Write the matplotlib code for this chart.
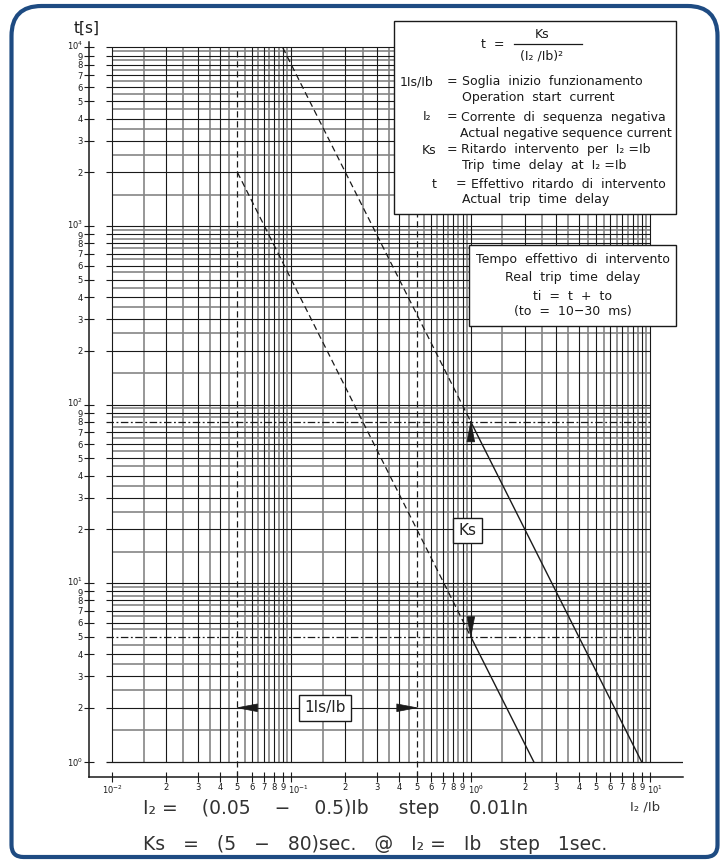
import numpy as np
import matplotlib.pyplot as plt
import matplotlib.transforms as mtransforms
from matplotlib.patches import Rectangle, PathPatch
from matplotlib.path import Path

W, H = 724, 865

# trip curves t = Ks / (I2/Ib)^2
ks5_x = [0.05, 1.0, 2.24]
ks5_t = [2000, 5, 1]
ks80_x = [0.0894, 1.0, 8.94]
ks80_t = [10000, 80, 1]

# setting ranges
is_limits = [0.05, 0.5]   # 1Is/Ib (vertical dashed)
ks_limits = [5, 80]       # Ks at I2 = Ib (horizontal dashed)

# log paper: a line every 0.5 inside each decade
grid_steps = [1, 1.5, 2, 2.5, 3, 3.5, 4, 4.5, 5, 5.5, 6, 6.5, 7, 7.5, 8, 8.5, 9, 9.5]
x_decades = [-2, -1, 0]
y_decades = [0, 1, 2, 3]
tick_digits = [2, 3, 4, 5, 6, 7, 8, 9]

plt.rcParams['font.family'] = ['DejaVu Sans']
INK = '#1a1a1a'
GREY = '#858585'

fig = plt.figure(figsize=(W / 100, H / 100), dpi=100)
# axes spans the L-shaped axis lines (pixels measured on the reference)
ax = fig.add_axes([89 / W, (H - 777) / H, (683 - 89) / W, (777 - 42) / H])
ax.set_xscale('log')
ax.set_yscale('log')
ax.set_xlim(10 ** -2.1282, 10 ** 1.1828)
ax.set_ylim(10 ** -0.0868, 10 ** 4.0308)

# pixel transform (origin top-left) for the annotation boxes
px = mtransforms.Affine2D().scale(1 / W, -1 / H).translate(0, 1) + fig.transFigure

x_left, x_right = 0.01, 10.0
y_bot, y_top = 1.0, 1e4
x_ext = 10 ** (-2 - 6 / 179.4)   # integer lines stick out a little on the left


def not_guide(v, guides):
    return all(abs(v / g - 1) > 1e-6 for g in guides)


# vertical grid (the guide positions are drawn dashed instead)
vx_major, vx_minor = [], []
for d in x_decades:
    for s in grid_steps:
        v = s * 10.0 ** d
        if not_guide(v, is_limits):
            (vx_major if float(s).is_integer() else vx_minor).append(v)
vx_major.append(x_right)
ax.vlines(vx_minor, y_bot, y_top, colors=GREY, lw=1.2, zorder=1)
ax.vlines(vx_major, y_bot, y_top, colors=INK, lw=0.8, zorder=1.1)

# horizontal grid
hy_major, hy_minor = [], []
for d in y_decades:
    for s in grid_steps:
        v = s * 10.0 ** d
        if not_guide(v, ks_limits):
            (hy_major if float(s).is_integer() else hy_minor).append(v)
hy_major.append(y_top)
ax.hlines(hy_minor, x_left, x_right, colors=GREY, lw=1.2, zorder=1)
ax.hlines(hy_major[1:], x_ext, x_right, colors=INK, lw=0.8, zorder=1.1)
ax.hlines(y_bot, x_ext, ax.get_xlim()[1], colors=INK, lw=0.9, zorder=1.1)

# setting guides
ax.vlines(is_limits, ax.get_ylim()[0], y_top, colors=INK, lw=0.9,
          linestyles=[(0, (5, 3))], zorder=2)
ax.hlines(ks_limits, x_ext, x_right, colors=INK, lw=0.9,
          linestyles=[(0, (6, 2, 1.5, 2))], zorder=2)

# trip curves: dashed below Ib, solid above
for xs, ts in [(ks5_x, ks5_t), (ks80_x, ks80_t)]:
    ax.plot(xs[:2], ts[:2], color=INK, lw=0.9, ls=(0, (5, 3)), zorder=3)
    ax.plot(xs[1:], ts[1:], color=INK, lw=1.0, zorder=3)

# wedge arrows
wedge = dict(arrowstyle='wedge,tail_width=0.55', fc=INK, ec=INK,
             shrinkA=0, shrinkB=0, lw=0.5)
ax.annotate('', xy=(is_limits[0], 2), xytext=(20, 0), textcoords='offset pixels',
            arrowprops=wedge, zorder=4)
ax.annotate('', xy=(is_limits[1], 2), xytext=(-20, 0), textcoords='offset pixels',
            arrowprops=wedge, zorder=4)
ax.annotate('', xy=(1.0, ks_limits[1]), xytext=(0, -20), textcoords='offset pixels',
            arrowprops=wedge, zorder=4)
ax.annotate('', xy=(1.0, ks_limits[0]), xytext=(0, 20), textcoords='offset pixels',
            arrowprops=wedge, zorder=4)

box = dict(boxstyle='square,pad=0.35', fc='white', ec=INK, lw=1.0)
ax.text(0.154, 2.0, '1Is/Ib', fontsize=11, ha='center', va='center',
        bbox=box, zorder=5, color='#222222')
ax.text(0.96, 19.7, 'Ks', fontsize=11, ha='center', va='center',
        bbox=box, zorder=5, color='#222222')

# axes look
for side in ['top', 'right']:
    ax.spines[side].set_visible(False)
for side in ['left', 'bottom']:
    ax.spines[side].set_linewidth(1.1)
    ax.spines[side].set_color(INK)

xt_major = [10.0 ** d for d in [-2, -1, 0, 1]]
ax.set_xticks(xt_major, [r'$10^{%d}$' % d for d in [-2, -1, 0, 1]])
ax.set_xticks([k * 10.0 ** d for d in x_decades for k in tick_digits],
              [str(k) for d in x_decades for k in tick_digits], minor=True)
yt_major = [10.0 ** d for d in [0, 1, 2, 3, 4]]
ax.set_yticks(yt_major, [r'$10^{%d}$' % d for d in [0, 1, 2, 3, 4]])
ax.set_yticks([k * 10.0 ** d for d in y_decades for k in tick_digits],
              [str(k) for d in y_decades for k in tick_digits], minor=True)
ax.tick_params(which='both', direction='inout', length=7, width=0.8,
               labelsize=6, colors=INK, pad=1)
# decade labels sit a little off their tick so the 9 next to them stays readable
shift_x = mtransforms.ScaledTranslation(-3 / 100, 0, fig.dpi_scale_trans)
for lab in ax.get_xticklabels()[1:]:
    lab.set_horizontalalignment('left')
    lab.set_transform(lab.get_transform() + shift_x)
shift_y = mtransforms.ScaledTranslation(0, 2.5 / 100, fig.dpi_scale_trans)
for lab in ax.get_yticklabels()[1:]:
    lab.set_transform(lab.get_transform() + shift_y)
for lab in ax.get_yticklabels(minor=True):
    if lab.get_text() == '9':
        lab.set_transform(lab.get_transform()
                          + mtransforms.ScaledTranslation(0, -1 / 100, fig.dpi_scale_trans))

# top legend box
ax.add_patch(Rectangle((394, 21), 282, 193, transform=px, fc='white', ec=INK,
                       lw=1.0, clip_on=False, zorder=6))
tk = dict(transform=px, fontsize=9, color=INK, zorder=7, va='center')
ax.text(493, 45, 't  =', ha='center', **tk)
ax.text(542, 35, 'Ks', ha='center', **tk)
ax.plot([514, 582], [43.5, 43.5], transform=px, color=INK, lw=0.9,
        clip_on=False, zorder=7)
ax.text(542, 56, '(I\u2082 /Ib)\u00b2', ha='center', **tk)
rows = [
    ('1Is/Ib', 400, 452, 'Soglia  inizio  funzionamento', 462, 82),
    ('', 0, 0, 'Operation  start  current', 462, 98),
    ('I\u2082', 423, 452, 'Corrente  di  sequenza  negativa', 461, 117),
    ('', 0, 0, 'Actual negative sequence current', 460, 133),
    ('Ks', 422, 452, 'Ritardo  intervento  per  I\u2082 =Ib', 461, 150),
    ('', 0, 0, 'Trip  time  delay  at  I\u2082 =Ib', 462, 166),
    ('t', 432, 461, 'Effettivo  ritardo  di  intervento', 471, 184),
    ('', 0, 0, 'Actual  trip  time  delay', 462, 200),
]
for lab, lx, ex, txt, tx, y in rows:
    if lab:
        ax.text(lx, y, lab, ha='left', **tk)
        ax.text(ex, y, '=', ha='center', **tk)
    ax.text(tx, y, txt, ha='left', **tk)

# trip time box
ax.add_patch(Rectangle((469, 245), 207, 81, transform=px, fc='white', ec=INK,
                       lw=1.0, clip_on=False, zorder=6))
for txt, y in [('Tempo  effettivo  di  intervento', 260),
               ('Real  trip  time  delay', 277),
               ('ti  =  t  +  to', 296),
               ('(to  =  10\u221230  ms)', 312)]:
    ax.text(572.5, y, txt, ha='center', **tk)

# axis titles and settings text
ax.text(87, 28, 't[s]', transform=px, fontsize=11, ha='center', va='center', color=INK)
ax.text(645, 807, 'I\u2082 /Ib', transform=px, fontsize=9.5, ha='center', va='center',
        color='#333333')
ax.text(143, 809, 'I\u2082 =    (0.05    \u2212    0.5)Ib     step     0.01In',
        transform=px, fontsize=13.5, ha='left', va='center', color='#333333')
ax.text(143, 845, 'Ks   =   (5   \u2212   80)sec.   @   I\u2082 =   Ib   step   1sec.',
        transform=px, fontsize=13.5, ha='left', va='center', color='#333333')

# rounded frame: big radius at the top, small at the bottom
x0, y0, x1, y1, rt, rb = 11.5, 6, 717.5, 857, 30, 12
verts = [(x0 + rt, y0), (x1 - rt, y0), (x1, y0), (x1, y0 + rt),
         (x1, y1 - rb), (x1, y1), (x1 - rb, y1),
         (x0 + rb, y1), (x0, y1), (x0, y1 - rb),
         (x0, y0 + rt), (x0, y0), (x0 + rt, y0), (x0 + rt, y0)]
codes = [Path.MOVETO, Path.LINETO, Path.CURVE3, Path.CURVE3,
         Path.LINETO, Path.CURVE3, Path.CURVE3,
         Path.LINETO, Path.CURVE3, Path.CURVE3,
         Path.LINETO, Path.CURVE3, Path.CURVE3, Path.CLOSEPOLY]
fig.patches.append(PathPatch(Path(verts, codes), transform=px, fill=False,
                             ec='#1e4b82', lw=3))

fig.savefig('out.png', dpi=100)
